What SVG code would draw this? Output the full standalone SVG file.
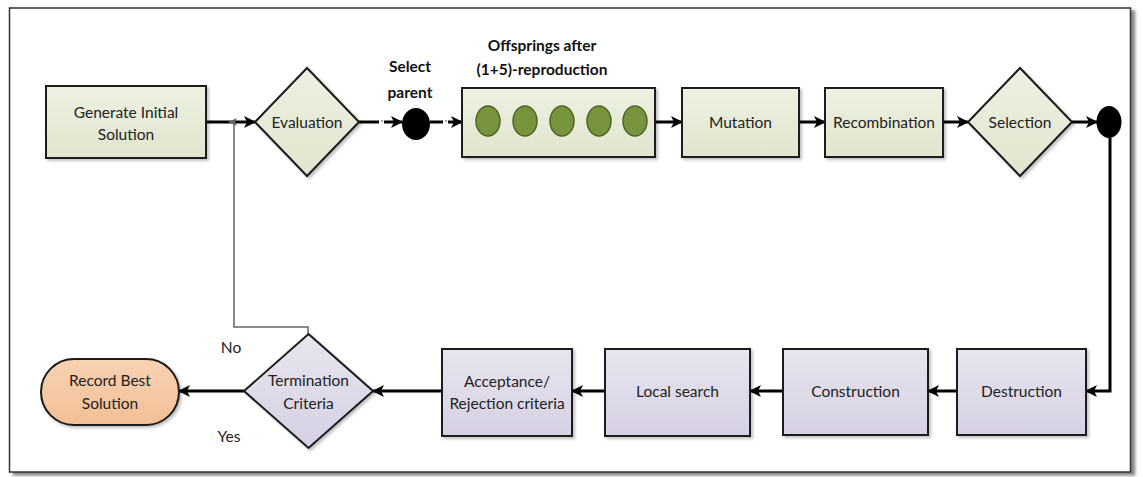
<svg xmlns="http://www.w3.org/2000/svg" width="1143" height="477" viewBox="0 0 1143 477">
  <style>
    .lbl { font-family: Lato, "Liberation Sans", sans-serif; font-size: 15.5px; fill: #222; text-anchor: middle; }
    .ttl { font-family: Lato, "Liberation Sans", sans-serif; font-size: 15.5px; font-weight: bold; fill: #111; text-anchor: middle; }
    .gbox { fill: url(#gGreen); stroke: #1a1a1a; stroke-width: 2; filter: url(#sh); }
    .pbox { fill: url(#gPurple); stroke: #1a1a1a; stroke-width: 2; filter: url(#sh); }
    .flow { fill: none; stroke: #000; stroke-width: 3; }
    .flowEnd { fill: none; stroke: #000; stroke-width: 3; marker-end: url(#ah); }
    .back { fill: none; stroke: #666; stroke-width: 1.5; }
    .seed { fill: #77933c; stroke: #4f6228; stroke-width: 1.5; }
  </style>
  <defs>
    <linearGradient id="gGreen" x1="0" y1="0" x2="0" y2="1">
      <stop offset="0" stop-color="#eef1e2"/>
      <stop offset="1" stop-color="#dfe5cd"/>
    </linearGradient>
    <linearGradient id="gPurple" x1="0" y1="0" x2="0" y2="1">
      <stop offset="0" stop-color="#e8e5ef"/>
      <stop offset="1" stop-color="#d6d0e3"/>
    </linearGradient>
    <linearGradient id="gPeach" x1="0" y1="0" x2="0" y2="1">
      <stop offset="0" stop-color="#f8d2b2"/>
      <stop offset="1" stop-color="#f2bf96"/>
    </linearGradient>
    <filter id="sh" x="-10%" y="-10%" width="130%" height="130%">
      <feDropShadow dx="2" dy="2" stdDeviation="1.5" flood-color="#000" flood-opacity="0.25"/>
    </filter>
    <filter id="frameSh" x="-2%" y="-2%" width="104%" height="106%">
      <feDropShadow dx="4" dy="3" stdDeviation="1.5" flood-color="#555" flood-opacity="0.7"/>
    </filter>
    <marker id="ah" viewBox="0 0 12 12" refX="11" refY="6" markerWidth="12" markerHeight="12" markerUnits="userSpaceOnUse" orient="auto">
      <path d="M0,0 L12,6 L0,12 L3,6 Z" fill="#000"/>
    </marker>
  </defs>

  <!-- outer frame -->
  <rect x="9.5" y="8" width="1121" height="464" fill="#fff" stroke="#333" stroke-width="1.5" filter="url(#frameSh)"/>

  <!-- connectors -->
  <g id="connectors">
    <line class="flowEnd" x1="206" y1="122" x2="255" y2="122"/>
    <line class="flow" x1="359" y1="122" x2="379" y2="122"/>
    <circle cx="382" cy="121" r="1" fill="#888"/>
    <line class="flowEnd" x1="384" y1="122" x2="402" y2="122"/>
    <line class="flow" x1="430" y1="122" x2="443" y2="122"/>
    <circle cx="446" cy="121" r="1" fill="#888"/>
    <line class="flowEnd" x1="448" y1="122" x2="462" y2="122"/>
    <line class="flowEnd" x1="655" y1="122" x2="682" y2="122"/>
    <line class="flowEnd" x1="799" y1="122" x2="825" y2="122"/>
    <line class="flowEnd" x1="943" y1="122" x2="968" y2="122"/>
    <line class="flowEnd" x1="1072" y1="122" x2="1097" y2="122"/>
    <polyline class="flowEnd" points="1110,138 1110,391 1086,391"/>
    <line class="flowEnd" x1="957" y1="391" x2="928" y2="391"/>
    <line class="flowEnd" x1="783" y1="391" x2="750" y2="391"/>
    <line class="flowEnd" x1="605" y1="391" x2="572" y2="391"/>
    <line class="flowEnd" x1="442" y1="391" x2="373" y2="391"/>
    <line class="flowEnd" x1="244" y1="391" x2="179" y2="391"/>
    <!-- "No" branch back to evaluation -->
    <polyline class="back" points="308,334 308,327 234,327 234,122"/>
    <path d="M228,122 L237,118 L235,122 L237,126 Z" fill="#666"/>
  </g>

  <g id="generate">
    <rect class="gbox" x="46" y="86" width="160" height="72"/>
    <text class="lbl" x="126" y="118">Generate Initial</text>
    <text class="lbl" x="126" y="140">Solution</text>
  </g>

  <g id="evaluation">
    <polygon class="gbox" points="307,68 359,122 307,176 255,122"/>
    <text class="lbl" x="307" y="128">Evaluation</text>
  </g>

  <g id="select-parent">
    <ellipse cx="416" cy="124" rx="14" ry="16" fill="#000"/>
    <text class="ttl" x="410" y="72">Select</text>
    <text class="ttl" x="410" y="98">parent</text>
  </g>

  <g id="offsprings">
    <text class="ttl" x="542" y="51">Offsprings after</text>
    <text class="ttl" x="542" y="75">(1+5)-reproduction</text>
    <rect class="gbox" x="462" y="88" width="193" height="69"/>
    <ellipse class="seed" cx="488" cy="121" rx="12" ry="15"/>
    <ellipse class="seed" cx="525" cy="121" rx="12" ry="15"/>
    <ellipse class="seed" cx="562" cy="121" rx="12" ry="15"/>
    <ellipse class="seed" cx="599" cy="121" rx="12" ry="15"/>
    <ellipse class="seed" cx="635" cy="121" rx="12" ry="15"/>
  </g>

  <g id="mutation">
    <rect class="gbox" x="682" y="88" width="117" height="69"/>
    <text class="lbl" x="740.5" y="128">Mutation</text>
  </g>

  <g id="recombination">
    <rect class="gbox" x="825" y="88" width="118" height="69"/>
    <text class="lbl" x="884" y="128">Recombination</text>
  </g>

  <g id="selection">
    <polygon class="gbox" points="1020,68 1072,122 1020,176 968,122"/>
    <text class="lbl" x="1020" y="128">Selection</text>
  </g>

  <g id="junction">
    <ellipse cx="1109" cy="122" rx="12.5" ry="16" fill="#000"/>
  </g>

  <g id="destruction">
    <rect class="pbox" x="957" y="349" width="129" height="86"/>
    <text class="lbl" x="1021.5" y="397">Destruction</text>
  </g>

  <g id="construction">
    <rect class="pbox" x="783" y="349" width="145" height="86"/>
    <text class="lbl" x="855.5" y="397">Construction</text>
  </g>

  <g id="local-search">
    <rect class="pbox" x="605" y="349" width="145" height="87"/>
    <text class="lbl" x="677.5" y="397">Local search</text>
  </g>

  <g id="acceptance">
    <rect class="pbox" x="442" y="349" width="130" height="87"/>
    <text class="lbl" x="507" y="387">Acceptance/</text>
    <text class="lbl" x="507" y="409">Rejection criteria</text>
  </g>

  <g id="termination">
    <polygon class="pbox" points="308.5,334 373,391 308.5,448 244,391"/>
    <text class="lbl" x="308.5" y="386">Termination</text>
    <text class="lbl" x="308.5" y="409">Criteria</text>
    <text class="lbl" x="231" y="353">No</text>
    <text class="lbl" x="229" y="442">Yes</text>
  </g>

  <g id="record-best">
    <rect x="41" y="359" width="138" height="66" rx="33" ry="33" fill="url(#gPeach)" stroke="#1a1a1a" stroke-width="2" filter="url(#sh)"/>
    <text class="lbl" x="110" y="386">Record Best</text>
    <text class="lbl" x="110" y="409">Solution</text>
  </g>
</svg>
